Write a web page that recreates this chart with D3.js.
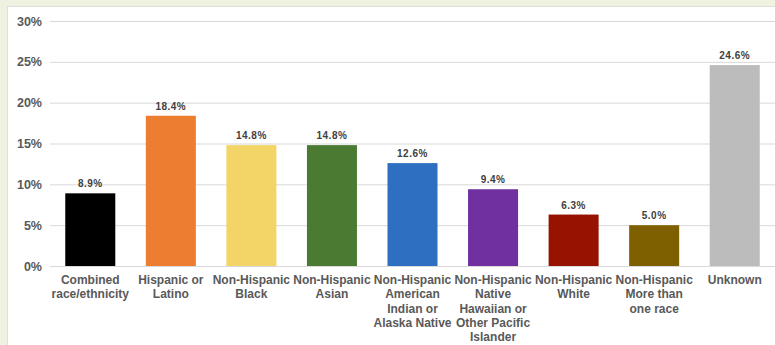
<!DOCTYPE html>
<html><head><meta charset="utf-8">
<script src="https://cdn.jsdelivr.net/npm/d3@7"></script>
<style>
html,body{margin:0;padding:0;background:#eff2e0;}
svg{display:block;}
</style></head>
<body>
<script>
const categories = [
  ["Combined","race/ethnicity"],
  ["Hispanic or","Latino"],
  ["Non-Hispanic","Black"],
  ["Non-Hispanic","Asian"],
  ["Non-Hispanic","American","Indian or","Alaska Native"],
  ["Non-Hispanic","Native","Hawaiian or","Other Pacific","Islander"],
  ["Non-Hispanic","White"],
  ["Non-Hispanic","More than","one race"],
  ["Unknown"]
];
const values = [8.9, 18.4, 14.8, 14.8, 12.6, 9.4, 6.3, 5.0, 24.6];
const colors = ["#000000","#ed7d31","#f3d466","#4b7b32","#2e6fc1","#7030a0","#951300","#7f6000","#bcbcbc"];
const yTicks = [0, 5, 10, 15, 20, 25, 30];

const W = 775, H = 345;
const svg = d3.select("body").append("svg").attr("width", W).attr("height", H);

// background panel
svg.append("rect").attr("x", 0).attr("y", 0).attr("width", W).attr("height", H).attr("fill", "#eff2e0");
svg.append("rect").attr("x", 7.5).attr("y", 6.5).attr("width", W).attr("height", H)
  .attr("fill", "#ffffff").attr("stroke", "#dedfd8").attr("stroke-width", 1);

const y = d3.scaleLinear().domain([0, 30]).range([266, 21]);
const x = d3.scaleBand().domain(d3.range(categories.length)).range([50, 775])
  .paddingInner(0.379).paddingOuter(0.1895);

// gridlines
const yAxis = d3.axisLeft(y).tickValues(yTicks).tickSize(-(775 - 50)).tickFormat(d => d + "%");
const gy = svg.append("g").attr("transform", "translate(50,0)").call(yAxis);
gy.select(".domain").remove();
gy.selectAll(".tick line").attr("stroke", "#d9d9d9").attr("stroke-width", 1);
gy.selectAll(".tick text").attr("x", -8).attr("fill", "#595959")
  .style("font-family", "Liberation Sans, Arial, sans-serif").style("font-size", "12.5px").style("font-weight", "bold");

// bars
svg.append("g").selectAll("rect").data(values).join("rect")
  .attr("x", (d, i) => x(i)).attr("width", x.bandwidth())
  .attr("y", d => y(d)).attr("height", d => y(0) - y(d))
  .attr("fill", (d, i) => colors[i]);

// axis baseline
const xAxis = d3.axisBottom(x).tickSize(0).tickFormat("");
const gx = svg.append("g").attr("transform", "translate(0,266)").call(xAxis);
gx.select(".domain").attr("stroke", "#d9d9d9");

// value labels
svg.append("g").selectAll("text").data(values).join("text")
  .attr("x", (d, i) => x(i) + x.bandwidth() / 2)
  .attr("y", d => y(d) - 6)
  .attr("text-anchor", "middle")
  .attr("fill", "#404040")
  .style("font-family", "Liberation Sans, Arial, sans-serif")
  .style("font-size", "10px").style("font-weight", "bold").style("letter-spacing", "0.5px")
  .text(d => d.toFixed(1) + "%");

// category labels
const lab = svg.append("g").selectAll("text").data(categories).join("text")
  .attr("x", (d, i) => x(i) + x.bandwidth() / 2)
  .attr("y", 284)
  .attr("text-anchor", "middle")
  .attr("fill", "#595959")
  .style("font-family", "Liberation Sans, Arial, sans-serif")
  .style("font-size", "12px").style("font-weight", "bold");
lab.each(function(d, i) {
  const t = d3.select(this);
  d.forEach((line, j) => {
    t.append("tspan").attr("x", x(i) + x.bandwidth() / 2).attr("dy", j === 0 ? 0 : 14.3).text(line);
  });
});
</script>
</body></html>
